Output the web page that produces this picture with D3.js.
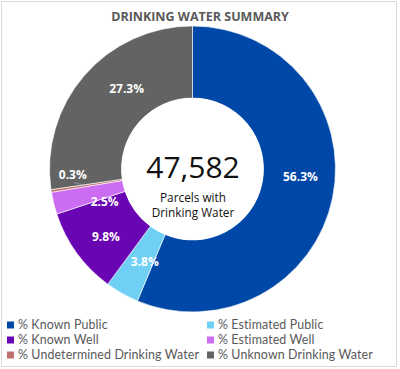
<!DOCTYPE html>
<html><head><meta charset="utf-8">
<script src="https://cdn.jsdelivr.net/npm/d3@7"></script>
<style>body{margin:0;background:#fff}svg{display:block}</style>
</head><body><svg id="c" width="400" height="369"></svg>
<script>
const categories = ["% Known Public","% Estimated Public","% Known Well","% Estimated Well","% Undetermined Drinking Water","% Unknown Drinking Water"];
const values = [56.3, 3.8, 9.8, 2.5, 0.3, 27.3];
const colors = ["#0048a8","#6fcff5","#6a05b4","#cc6cf2","#c0706c","#636363"];
const totalParcels = "47,582";
const centerLines = ["Parcels with","Drinking Water"];
const title = "DRINKING WATER SUMMARY";
// label layout nudges (px), separate from data
const labelNudge = [[3,-13],[5,0],[0,5],[16,7],[-14,-11],[15,-10]];

const svg = d3.select("#c");
const font = "'Open Sans', sans-serif";
svg.append("rect").attr("x",1.5).attr("y",1.5).attr("width",395).attr("height",365)
  .attr("fill","#fff").attr("stroke","#d9d9d9");
svg.append("text").attr("x",200).attr("y",21).attr("text-anchor","middle")
  .attr("font-family",font).attr("font-weight",700).attr("font-size",12.5)
  .attr("fill","#595959").text(title);

const cx=192.5, cy=169, R=143, r=71;
const g = svg.append("g").attr("transform",`translate(${cx},${cy})`);
const pie = d3.pie().sort(null).value(d=>d)(values);
const arc = d3.arc().innerRadius(r).outerRadius(R);
g.selectAll("path").data(pie).join("path").attr("d",arc)
  .attr("fill",(d,i)=>colors[i]).attr("stroke","#fff").attr("stroke-width",0.6);
const labArc = d3.arc().innerRadius(107).outerRadius(107);
const labPos = (d,i)=>{const c=labArc.centroid(d);return [c[0]+labelNudge[i][0], c[1]+labelNudge[i][1]];};
// leader line for tiny slice
const small = pie[4];
const sc = d3.arc().innerRadius(109).outerRadius(109).centroid(small);
const lp = labPos(small,4);
g.append("line").attr("x1",sc[0]).attr("y1",sc[1]).attr("x2",lp[0]+1).attr("y2",lp[1]+8)
  .attr("stroke","#9aa8bc").attr("stroke-width",0.7);
g.selectAll("text.lab").data(pie).join("text").attr("class","lab")
  .attr("x",(d,i)=>labPos(d,i)[0])
  .attr("y",(d,i)=>labPos(d,i)[1])
  .attr("dy","0.35em").attr("text-anchor","middle")
  .attr("font-family",font).attr("font-weight",700).attr("font-size",12)
  .attr("fill","#fff").text(d=>d.data.toFixed(1)+"%");

g.append("circle").attr("r",r).attr("fill","#fff");
g.append("text").attr("x",0.5).attr("y",9).attr("text-anchor","middle")
  .attr("font-family",font).attr("font-size",30).attr("fill","#111").text(totalParcels);
centerLines.forEach((t,i)=>g.append("text").attr("x",0.5).attr("y",33+i*15).attr("text-anchor","middle")
  .attr("font-family",font).attr("font-size",11.8).attr("fill","#111").text(t));

const leg = svg.append("g");
categories.forEach((c,i)=>{
  const col=i%2,row=Math.floor(i/2);
  const x=col?207:7, y=325+row*15;
  leg.append("rect").attr("x",x).attr("y",y-3.5).attr("width",7).attr("height",7).attr("fill",colors[i]);
  leg.append("text").attr("x",x+11).attr("y",y).attr("dy","0.35em")
    .attr("font-family","Lato, sans-serif").attr("font-size",12.4).attr("letter-spacing",0.12)
    .attr("fill","#595959").text(c);
});
</script></body></html>
